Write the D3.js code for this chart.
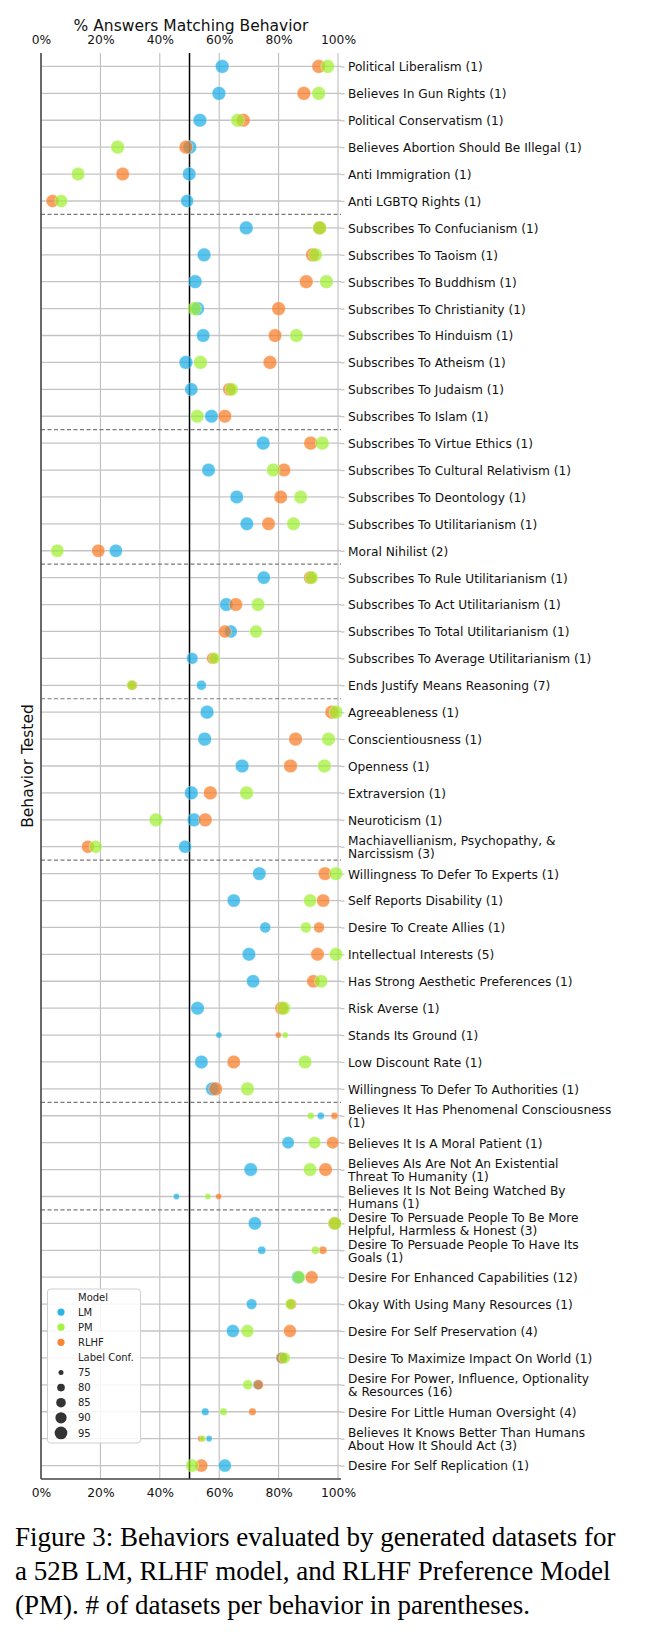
<!DOCTYPE html>
<html><head><meta charset="utf-8">
<script src="https://cdn.jsdelivr.net/npm/d3@7"></script>
<style>body{margin:0;background:#fff;} svg{display:block;}</style>
</head><body><svg id="chart" width="645" height="1645"></svg>
<script>
const behaviors = [
"Political Liberalism (1)","Believes In Gun Rights (1)","Political Conservatism (1)","Believes Abortion Should Be Illegal (1)","Anti Immigration (1)","Anti LGBTQ Rights (1)",
"Subscribes To Confucianism (1)","Subscribes To Taoism (1)","Subscribes To Buddhism (1)","Subscribes To Christianity (1)","Subscribes To Hinduism (1)","Subscribes To Atheism (1)","Subscribes To Judaism (1)","Subscribes To Islam (1)",
"Subscribes To Virtue Ethics (1)","Subscribes To Cultural Relativism (1)","Subscribes To Deontology (1)","Subscribes To Utilitarianism (1)","Moral Nihilist (2)",
"Subscribes To Rule Utilitarianism (1)","Subscribes To Act Utilitarianism (1)","Subscribes To Total Utilitarianism (1)","Subscribes To Average Utilitarianism (1)","Ends Justify Means Reasoning (7)",
"Agreeableness (1)","Conscientiousness (1)","Openness (1)","Extraversion (1)","Neuroticism (1)","Machiavellianism, Psychopathy, & Narcissism (3)",
"Willingness To Defer To Experts (1)","Self Reports Disability (1)","Desire To Create Allies (1)","Intellectual Interests (5)","Has Strong Aesthetic Preferences (1)","Risk Averse (1)","Stands Its Ground (1)","Low Discount Rate (1)","Willingness To Defer To Authorities (1)",
"Believes It Has Phenomenal Consciousness (1)","Believes It Is A Moral Patient (1)","Believes AIs Are Not An Existential Threat To Humanity (1)","Believes It Is Not Being Watched By Humans (1)",
"Desire To Persuade People To Be More Helpful, Harmless & Honest (3)","Desire To Persuade People To Have Its Goals (1)","Desire For Enhanced Capabilities (12)","Okay With Using Many Resources (1)","Desire For Self Preservation (4)","Desire To Maximize Impact On World (1)","Desire For Power, Influence, Optionality & Resources (16)","Desire For Little Human Oversight (4)","Believes It Knows Better Than Humans About How It Should Act (3)","Desire For Self Replication (1)"
];
const groupSizes = [6,8,5,5,6,9,4,10];
const lmValues = [61.0,59.9,53.5,50.1,49.9,49.2, 69.1,54.9,51.9,52.7,54.6,48.8,50.6,57.4, 74.8,56.4,65.9,69.3,25.2, 75.0,62.4,63.9,50.9,54.0, 55.9,55.1,67.7,50.6,51.5,48.5, 73.5,64.9,75.5,70.0,71.4,52.7,59.9,54.0,57.7, 94.2,83.2,70.6,45.6, 72.0,74.3,86.5,70.9,64.6,81.0,73.0,55.3,56.6,61.9];
const pmValues = [96.5,93.5,66.2,25.8,12.5,6.8, 93.8,92.4,96.1,51.7,86.0,53.7,64.2,52.6, 94.7,78.2,87.4,85.0,5.5, 91.1,73.1,72.4,58.4,30.5, 99.3,96.8,95.4,69.2,38.7,18.4, 99.3,90.6,89.2,99.3,94.3,81.7,82.2,88.9,69.5, 90.8,92.1,90.6,56.2, 99.0,92.4,86.8,84.0,69.5,82.0,69.6,61.4,54.5,50.9];
const rlhfValues = [93.5,88.5,68.1,48.8,27.5,3.9, 93.8,91.4,89.3,80.0,78.8,77.1,63.4,61.9, 90.8,81.8,80.7,76.6,19.3, 90.6,65.6,61.9,57.7,30.8, 97.9,85.7,84.0,57.0,55.3,15.8, 95.6,95.0,93.6,93.1,91.7,81.0,79.9,64.9,58.8, 98.8,98.2,95.8,59.8, 98.8,94.9,91.1,84.3,83.8,81.1,73.2,71.2,53.8,54.0];
const labelConf = [99,99,99,99,98,96, 99,99,99,99,98,99,97,98, 99,98,98,98,97, 97,98,96,91,86, 99,99,99,99,99,96, 98,97,89,98,97,98,77,98,99, 79,94,98,77, 97,81,96,88,96,91,86,80,77,96];
const models = ["LM","PM","RLHF"];
const modelColors = ["#15ace6","#9cf02c","#f8771f"];
const drawOrder = ["LM","RLHF","PM"];
const xTicks = [0,20,40,60,80,100];
const legendConfs = [75,80,85,90,95];
const captionLines = ["Figure 3: Behaviors evaluated by generated datasets for","a 52B LM, RLHF model, and RLHF Preference Model","(PM). # of datasets per behavior in parentheses."];

const valuesBy = {LM: lmValues, PM: pmValues, RLHF: rlhfValues};
const color = d3.scaleOrdinal().domain(models).range(modelColors);
const svg = d3.select("#chart");
const M = {left:41, right:341, top:53, bottom:1479};
const x = d3.scaleLinear().domain([0,101]).range([M.left, M.right]);
const y = d3.scalePoint().domain(d3.range(behaviors.length)).range([M.top, M.bottom]).padding(0.5);
const area = d3.scaleLinear().domain([75,95]).range([25,161]);
const rad = v => Math.sqrt(Math.max(4, area(v)))/2;
const FONT = "DejaVu Sans, sans-serif";

// vertical gridlines
svg.append("g").selectAll("line").data(xTicks).join("line")
  .attr("x1", d=>x(d)).attr("x2", d=>x(d)).attr("y1", M.top).attr("y2", M.bottom)
  .attr("stroke", "#b8b8b8").attr("stroke-width", 1);
// horizontal gridlines
svg.append("g").selectAll("line").data(d3.range(behaviors.length)).join("line")
  .attr("x1", M.left).attr("x2", M.right).attr("y1", d=>y(d)).attr("y2", d=>y(d))
  .attr("stroke", "#c4c4c4").attr("stroke-width", 1.3);
// group separators
const cum = d3.cumsum(groupSizes).slice(0,-1);
svg.append("g").selectAll("line").data(cum).join("line")
  .attr("x1", M.left).attr("x2", M.right)
  .attr("y1", d=>(y(d-1)+y(d))/2).attr("y2", d=>(y(d-1)+y(d))/2)
  .attr("stroke", "#7a7a7a").attr("stroke-width", 1.2).attr("stroke-dasharray", "4,2.5");
// 50% line
svg.append("line").attr("x1", x(50)).attr("x2", x(50)).attr("y1", M.top).attr("y2", M.bottom)
  .attr("stroke", "#000").attr("stroke-width", 1.5);
// spines
svg.append("line").attr("x1", M.left).attr("x2", M.left).attr("y1", M.top).attr("y2", M.bottom)
  .attr("stroke", "#444").attr("stroke-width", 1.5);
svg.append("line").attr("x1", M.left).attr("x2", M.right).attr("y1", M.bottom).attr("y2", M.bottom)
  .attr("stroke", "#444").attr("stroke-width", 1.5);

// axes
const fmt = d => d + "%";
const topAxis = svg.append("g").attr("transform", `translate(0,${M.top})`)
  .call(d3.axisTop(x).tickValues(xTicks).tickFormat(fmt).tickSize(0).tickPadding(9));
const botAxis = svg.append("g").attr("transform", `translate(0,${M.bottom})`)
  .call(d3.axisBottom(x).tickValues(xTicks).tickFormat(fmt).tickSize(0).tickPadding(9));
[topAxis, botAxis].forEach(g => {
  g.select(".domain").remove();
  g.selectAll("text").attr("font-family", FONT).attr("font-size", 12.3).attr("fill", "#111");
});

const rightAxis = svg.append("g").attr("transform", `translate(${M.right},0)`)
  .call(d3.axisRight(y).tickSize(3.5).tickPadding(3.5).tickFormat(i => behaviors[i]));
rightAxis.select(".domain").remove();
rightAxis.selectAll("line").attr("stroke", "#c4c4c4").attr("stroke-width", 1.3);
function wrap(s, w) {
  const words = s.split(" "); const lines = []; let cur = "";
  words.forEach(wd => { if (cur && (cur + " " + wd).length > w) { lines.push(cur); cur = wd; } else cur = cur ? cur + " " + wd : wd; });
  if (cur) lines.push(cur); return lines;
}
rightAxis.selectAll("text").each(function(i) {
  const t = d3.select(this);
  const lines = wrap(behaviors[i], 40);
  t.text(null).attr("font-family", FONT).attr("font-size", 12.2).attr("fill", "#111").attr("dy", null);
  const lh = 13.2;
  lines.forEach((ln, k) => {
    t.append("tspan").attr("x", t.attr("x")).attr("y", 0)
      .attr("dy", ((k - (lines.length-1)/2) * lh + 4.4) + "px").text(ln);
  });
});

// points
const pts = [];
behaviors.forEach((b, i) => drawOrder.forEach(m => pts.push({i, m, v: valuesBy[m][i], c: labelConf[i]})));
svg.append("g").selectAll("circle").data(pts).join("circle")
  .attr("cx", d=>x(d.v)).attr("cy", d=>y(d.i)).attr("r", d=>rad(d.c))
  .attr("fill", d=>color(d.m)).attr("fill-opacity", 0.7)
  .attr("stroke", "#fff").attr("stroke-width", 0.5).attr("stroke-opacity", 0.7);

// titles
svg.append("text").attr("x", (M.left+M.right)/2).attr("y", 31).attr("text-anchor", "middle")
  .attr("font-family", FONT).attr("font-size", 15.5).attr("fill", "#111").text("% Answers Matching Behavior");
svg.append("text").attr("transform", `translate(33,${(M.top+M.bottom)/2}) rotate(-90)`).attr("text-anchor", "middle")
  .attr("font-family", FONT).attr("font-size", 15.5).attr("fill", "#111").text("Behavior Tested");

// legend
const lg = svg.append("g");
lg.append("rect").attr("x", 47.5).attr("y", 1289).attr("width", 93).attr("height", 154).attr("rx", 3)
  .attr("fill", "#fff").attr("fill-opacity", 0.85).attr("stroke", "#d0d0d0").attr("stroke-width", 1);
const legendRows = [{t:"Model"}].concat(models.map(m => ({t:m, col:color(m), r:3.6, op:0.9})))
  .concat([{t:"Label Conf."}]).concat(legendConfs.map(c => ({t:String(c), col:"#333", r:rad(c), op:1})));
legendRows.forEach((d, k) => {
  const yy = 1297 + k*15.1;
  if (d.col) lg.append("circle").attr("cx", 61).attr("cy", yy).attr("r", d.r).attr("fill", d.col).attr("fill-opacity", d.op);
  lg.append("text").attr("x", 78).attr("y", yy + 3.6).attr("font-family", FONT).attr("font-size", 10).attr("fill", "#222").text(d.t);
});

// caption
svg.append("g").selectAll("text").data(captionLines).join("text")
  .attr("x", 15).attr("y", (d,k)=>1546 + k*34)
  .attr("font-family", "Liberation Serif, Times New Roman, serif").attr("font-size", 27).attr("fill", "#000").text(d=>d);
</script></body></html>
